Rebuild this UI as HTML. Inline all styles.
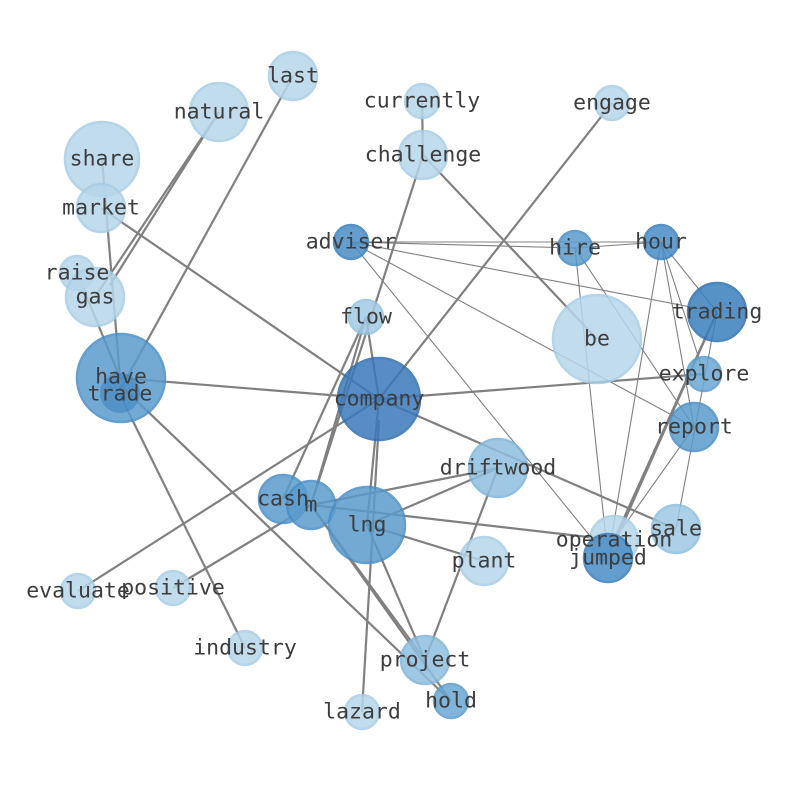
<!DOCTYPE html>
<html><head><meta charset="utf-8"><style>html,body{margin:0;padding:0;background:#fff}svg{display:block}</style></head>
<body>
<svg width="794" height="790" viewBox="0 0 794 790" xmlns="http://www.w3.org/2000/svg">
<g stroke="#808080" stroke-width="2.2" fill="none">
<line x1="219" y1="112" x2="95" y2="297"/>
<line x1="219" y1="112" x2="110" y2="285"/>
<line x1="293" y1="76" x2="120" y2="390"/>
<line x1="102" y1="159" x2="120" y2="378"/>
<line x1="101" y1="208" x2="379" y2="399"/>
<line x1="77" y1="273" x2="120" y2="378"/>
<line x1="120" y1="378" x2="379" y2="399"/>
<line x1="120" y1="385" x2="451" y2="701"/>
<line x1="120" y1="395" x2="245" y2="648"/>
<line x1="379" y1="399" x2="612" y2="103"/>
<line x1="379" y1="399" x2="704" y2="374"/>
<line x1="379" y1="399" x2="78" y2="591"/>
<line x1="379" y1="399" x2="676" y2="529"/>
<line x1="379" y1="399" x2="367" y2="525"/>
<line x1="379" y1="399" x2="366" y2="317"/>
<line x1="366" y1="317" x2="311" y2="505"/>
<line x1="366" y1="317" x2="283" y2="499"/>
<line x1="423" y1="155" x2="597" y2="339"/>
<line x1="423" y1="155" x2="422" y2="101"/>
<line x1="423" y1="155" x2="311" y2="505"/>
<line x1="367" y1="525" x2="498" y2="468"/>
<line x1="311" y1="505" x2="498" y2="468"/>
<line x1="367" y1="525" x2="484" y2="561"/>
<line x1="311" y1="505" x2="614" y2="540"/>
<line x1="367" y1="525" x2="425" y2="660"/>
<line x1="379" y1="420" x2="362" y2="712"/>
<line x1="498" y1="468" x2="425" y2="660"/>
<line x1="311" y1="505" x2="451" y2="701"/>
<line x1="311" y1="505" x2="425" y2="660"/>
<line x1="311" y1="505" x2="173" y2="588"/>
<line x1="717" y1="312" x2="608" y2="558"/>
<line x1="717" y1="312" x2="614" y2="540"/>
</g>
<g stroke="#808080" stroke-width="1.1" fill="none">
<line x1="351" y1="242" x2="661" y2="242"/>
<line x1="351" y1="242" x2="717" y2="312"/>
<line x1="351" y1="242" x2="694" y2="427"/>
<line x1="351" y1="242" x2="608" y2="558"/>
<line x1="351" y1="242" x2="575" y2="248"/>
<line x1="575" y1="248" x2="661" y2="242"/>
<line x1="575" y1="248" x2="694" y2="427"/>
<line x1="575" y1="248" x2="608" y2="558"/>
<line x1="661" y1="242" x2="717" y2="312"/>
<line x1="661" y1="242" x2="694" y2="427"/>
<line x1="661" y1="242" x2="608" y2="558"/>
<line x1="661" y1="242" x2="704" y2="374"/>
<line x1="717" y1="312" x2="676" y2="529"/>
<line x1="694" y1="427" x2="614" y2="540"/>
</g>
<g stroke-width="2.5">
<circle cx="293" cy="76" r="24" fill="#b7d6ea" stroke="#a7cde6" opacity="0.85"/>
<circle cx="219" cy="112" r="29" fill="#b7d6ea" stroke="#a7cde6" opacity="0.85"/>
<circle cx="422" cy="101" r="17" fill="#b7d6ea" stroke="#a7cde6" opacity="0.85"/>
<circle cx="612" cy="103" r="17" fill="#b7d6ea" stroke="#a7cde6" opacity="0.85"/>
<circle cx="102" cy="159" r="37" fill="#b7d6ea" stroke="#a7cde6" opacity="0.85"/>
<circle cx="423" cy="155" r="24" fill="#b7d6ea" stroke="#a7cde6" opacity="0.85"/>
<circle cx="101" cy="208" r="24" fill="#b7d6ea" stroke="#a7cde6" opacity="0.85"/>
<circle cx="351" cy="242" r="17" fill="#4a8ec7" stroke="#3a7fbd" opacity="0.85"/>
<circle cx="575" cy="248" r="17" fill="#5b9ccd" stroke="#4a8ec7" opacity="0.85"/>
<circle cx="661" cy="242" r="17" fill="#4a8ec7" stroke="#3a7fbd" opacity="0.85"/>
<circle cx="77" cy="273" r="17" fill="#b7d6ea" stroke="#a7cde6" opacity="0.85"/>
<circle cx="95" cy="297" r="29" fill="#b7d6ea" stroke="#a7cde6" opacity="0.85"/>
<circle cx="717" cy="312" r="29" fill="#3a7fbd" stroke="#2e72b2" opacity="0.85"/>
<circle cx="366" cy="317" r="17" fill="#a3cbe5" stroke="#94c2e0" opacity="0.85"/>
<circle cx="597" cy="339" r="44" fill="#b7d6ea" stroke="#a7cde6" opacity="0.85"/>
<circle cx="121" cy="378" r="44" fill="#5b9ccd" stroke="#4a8ec7" opacity="0.85"/>
<circle cx="120" cy="393" r="20" fill="#3a7fbd" opacity="0.55"/>
<circle cx="379" cy="399" r="41" fill="#3a7aba" stroke="#2e6fae" opacity="0.85"/>
<circle cx="704" cy="374" r="17" fill="#6aa8d4" stroke="#5b9ccd" opacity="0.85"/>
<circle cx="694" cy="427" r="24" fill="#5b9ccd" stroke="#4a8ec7" opacity="0.85"/>
<circle cx="498" cy="468" r="29" fill="#8ebfe0" stroke="#7fb5da" opacity="0.85"/>
<circle cx="283" cy="499" r="24" fill="#5b9ccd" stroke="#4a8ec7" opacity="0.85"/>
<circle cx="311" cy="505" r="24" fill="#5b9ccd" stroke="#4a8ec7" opacity="0.85"/>
<circle cx="367" cy="525" r="38" fill="#5b9ccd" stroke="#4a8ec7" opacity="0.85"/>
<circle cx="614" cy="540" r="24" fill="#b7d6ea" stroke="#a7cde6" opacity="0.85"/>
<circle cx="608" cy="558" r="24" fill="#4a8ec7" stroke="#3a7fbd" opacity="0.85"/>
<circle cx="676" cy="529" r="24" fill="#9ec8e3" stroke="#8ebfe0" opacity="0.85"/>
<circle cx="484" cy="561" r="24" fill="#b7d6ea" stroke="#a7cde6" opacity="0.85"/>
<circle cx="78" cy="591" r="17" fill="#b7d6ea" stroke="#a7cde6" opacity="0.85"/>
<circle cx="173" cy="588" r="17" fill="#b7d6ea" stroke="#a7cde6" opacity="0.85"/>
<circle cx="245" cy="648" r="17" fill="#b7d6ea" stroke="#a7cde6" opacity="0.85"/>
<circle cx="425" cy="660" r="24" fill="#8ebfe0" stroke="#7fb5da" opacity="0.85"/>
<circle cx="451" cy="701" r="17" fill="#6aa8d4" stroke="#5b9ccd" opacity="0.85"/>
<circle cx="362" cy="712" r="17" fill="#b7d6ea" stroke="#a7cde6" opacity="0.85"/>
</g>
<g font-family="'DejaVu Sans Mono','Liberation Mono',monospace" font-size="21.5" fill="#3d3d3d" text-anchor="middle" dominant-baseline="central">
<text x="293" y="76">last</text>
<text x="219" y="112">natural</text>
<text x="422" y="101">currently</text>
<text x="612" y="103">engage</text>
<text x="102" y="159">share</text>
<text x="423" y="155">challenge</text>
<text x="101" y="208">market</text>
<text x="351" y="242">adviser</text>
<text x="575" y="248">hire</text>
<text x="661" y="242">hour</text>
<text x="77" y="273">raise</text>
<text x="95" y="297">gas</text>
<text x="717" y="312">trading</text>
<text x="366" y="317">flow</text>
<text x="597" y="339">be</text>
<text x="121" y="377">have</text>
<text x="120" y="394">trade</text>
<text x="379" y="399">company</text>
<text x="704" y="374">explore</text>
<text x="694" y="427">report</text>
<text x="498" y="468">driftwood</text>
<text x="283" y="499">cash</text>
<text x="311" y="505">m</text>
<text x="367" y="525">lng</text>
<text x="614" y="540">operation</text>
<text x="608" y="558">jumped</text>
<text x="676" y="529">sale</text>
<text x="484" y="561">plant</text>
<text x="78" y="591">evaluate</text>
<text x="173" y="588">positive</text>
<text x="245" y="648">industry</text>
<text x="425" y="660">project</text>
<text x="451" y="701">hold</text>
<text x="362" y="712">lazard</text>
</g>
</svg>
</body></html>
